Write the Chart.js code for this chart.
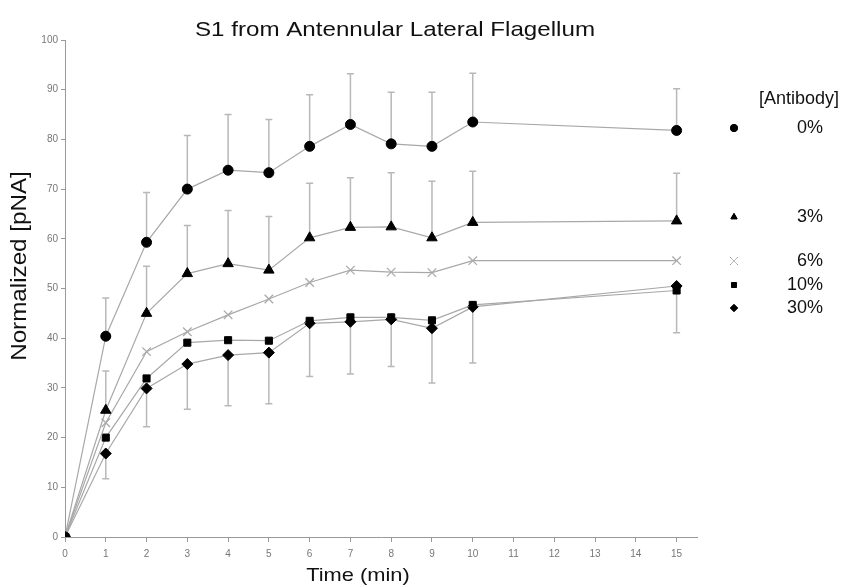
<!DOCTYPE html>
<html>
<head>
<meta charset="utf-8">
<script src="https://cdn.jsdelivr.net/npm/chart.js@4.4.1/dist/chart.umd.min.js"></script>
<style>
  body { margin: 0; background: #fff; }
  #wrap { width: 868px; height: 588px; position: relative; }
</style>
</head>
<body>
<div id="wrap"><canvas id="myChart" width="868" height="588"></canvas></div>
<script>
// minutes
const tiempos = [0, 1, 2, 3, 4, 5, 6, 7, 8, 9, 10, 15];

// normalized pNA for each antibody concentration
const anticuerpo0 = [0, 40.4, 59.3, 70, 73.8, 73.3, 78.6, 83, 79.1, 78.6, 83.5, 81.8];
const anticuerpo3 = [0, 25.5, 45, 53, 55, 53.7, 60.2, 62.3, 62.4, 60.2, 63.3, 63.6];
const anticuerpo6 = [0, 23, 37.3, 41.3, 44.7, 47.9, 51.2, 53.7, 53.3, 53.2, 55.6, 55.6];
const anticuerpo10 = [0, 20, 31.9, 39.1, 39.6, 39.5, 43.5, 44.2, 44.2, 43.6, 46.7, 49.6];
const anticuerpo30 = [0, 16.8, 29.9, 34.8, 36.6, 37.1, 43, 43.3, 43.8, 42, 46.3, 50.5];

// error bar ends (0% and 3% up, 30% down)
const errorArriba0 = [null, 48.1, 69.3, 80.8, 85, 84, 89, 93.2, 89.5, 89.5, 93.3, 90.2];
const errorArriba3 = [null, 33.4, 54.5, 62.7, 65.7, 64.5, 71.2, 72.3, 73.3, 71.6, 73.6, 73.2];
const errorAbajo30 = [null, 11.7, 22.2, 25.7, 26.4, 26.8, 32.3, 32.8, 34.3, 31, 35, 41.1];

const etiquetas = ["0%", "3%", "6%", "10%", "30%"];
const marcadores = ["circle", "triangle", "crossRot", "rect", "rectRot"];
const ticksX = [0, 1, 2, 3, 4, 5, 6, 7, 8, 9, 10, 11, 12, 13, 14, 15];
const ticksY = [0, 10, 20, 30, 40, 50, 60, 70, 80, 90, 100];

const series = [anticuerpo0, anticuerpo3, anticuerpo6, anticuerpo10, anticuerpo30];
const radios = [5, 6, 6, 5, 5.5];
const fuente = "'Liberation Sans', Arial, sans-serif";

const datasets = series.map((valores, i) => ({
  label: etiquetas[i],
  data: tiempos.map((t, j) => ({ x: t, y: valores[j] })),
  borderColor: "#a8a8a8",
  borderWidth: 1.2,
  pointStyle: marcadores[i],
  pointRadius: radios[i],
  pointBackgroundColor: i === 2 ? "rgba(0,0,0,0)" : "#000",
  pointBorderColor: i === 2 ? "#aaa" : "#000",
  pointBorderWidth: i === 2 ? 1.3 : 1,
  tension: 0,
}));

const barrasDeError = {
  id: "barrasDeError",
  beforeDatasetsDraw(chart) {
    const ctx = chart.ctx;
    const x = chart.scales.x;
    const y = chart.scales.y;
    ctx.save();
    ctx.strokeStyle = "#b8b8b8";
    ctx.lineWidth = 1.5;
    const dibujar = (medias, extremos) => {
      tiempos.forEach((t, j) => {
        if (extremos[j] === null) return;
        const px = x.getPixelForValue(t);
        const y1 = y.getPixelForValue(medias[j]);
        const y2 = y.getPixelForValue(extremos[j]);
        ctx.beginPath();
        ctx.moveTo(px, y1);
        ctx.lineTo(px, y2);
        ctx.moveTo(px - 3.5, y2);
        ctx.lineTo(px + 3.5, y2);
        ctx.stroke();
      });
    };
    dibujar(anticuerpo0, errorArriba0);
    dibujar(anticuerpo3, errorArriba3);
    dibujar(anticuerpo30, errorAbajo30);
    ctx.restore();
  },
};

// text a bit stretched sideways like the scanned figure
function textoEstirado(ctx, texto, x, y, estirar, rotar) {
  ctx.save();
  ctx.translate(x, y);
  if (rotar) ctx.rotate(-Math.PI / 2);
  ctx.scale(estirar, 1);
  ctx.fillText(texto, 0, 0);
  ctx.restore();
}

const textos = {
  id: "textos",
  afterDraw(chart) {
    const ctx = chart.ctx;
    ctx.save();
    ctx.fillStyle = "#111";
    ctx.textBaseline = "middle";
    ctx.textAlign = "center";
    ctx.font = "21px " + fuente;
    textoEstirado(ctx, "S1 from Antennular Lateral Flagellum", 395, 30, 1.15, false);
    ctx.font = "22px " + fuente;
    textoEstirado(ctx, "Normalized [pNA]", 20, 266, 1.1, true);
    ctx.font = "19px " + fuente;
    textoEstirado(ctx, "Time (min)", 358, 576, 1.15, false);

    ctx.font = "18px " + fuente;
    ctx.textAlign = "right";
    ctx.fillText("[Antibody]", 839, 99);
    const filas = [128, 217, 261, 285, 308];
    etiquetas.forEach((et, i) => {
      ctx.fillStyle = "#111";
      ctx.font = "18px " + fuente;
      ctx.fillText(et, 823, filas[i]);
      Chart.helpers.drawPoint(ctx, {
        pointStyle: marcadores[i],
        radius: i === 2 ? 5 : 3.5,
        rotation: 0,
        borderWidth: 1,
      }, 734, filas[i]);
      ctx.fillStyle = i === 2 ? "rgba(0,0,0,0)" : "#000";
      ctx.strokeStyle = i === 2 ? "#bbb" : "#000";
      if (i !== 2) ctx.fill();
      ctx.stroke();
    });
    ctx.restore();
  },
};

const config = {
  type: "line",
  data: { datasets },
  options: {
    responsive: false,
    animation: false,
    layout: { padding: { top: 40, right: 171, left: 0, bottom: 0 } },
    plugins: { legend: { display: false }, tooltip: { enabled: false } },
    scales: {
      x: {
        type: "linear",
        min: 0,
        max: 15.5,
        afterBuildTicks: (s) => { s.ticks = ticksX.map((v) => ({ value: v })); },
        afterFit: (s) => { s.height = 51; },
        border: { color: "#999", width: 1 },
        grid: { drawOnChartArea: false, color: "#999", tickLength: 5 },
        ticks: { color: "#777", font: { size: 10, family: fuente }, padding: 6 },
      },
      y: {
        min: 0,
        max: 100,
        afterBuildTicks: (s) => { s.ticks = ticksY.map((v) => ({ value: v })); },
        afterFit: (s) => { s.width = 65; },
        border: { color: "#999", width: 1 },
        grid: { drawOnChartArea: false, color: "#999", tickLength: 4 },
        ticks: { color: "#777", font: { size: 10, family: fuente }, padding: 3 },
      },
    },
  },
  plugins: [barrasDeError, textos],
};

new Chart(document.getElementById("myChart"), config);
</script>
</body>
</html>
